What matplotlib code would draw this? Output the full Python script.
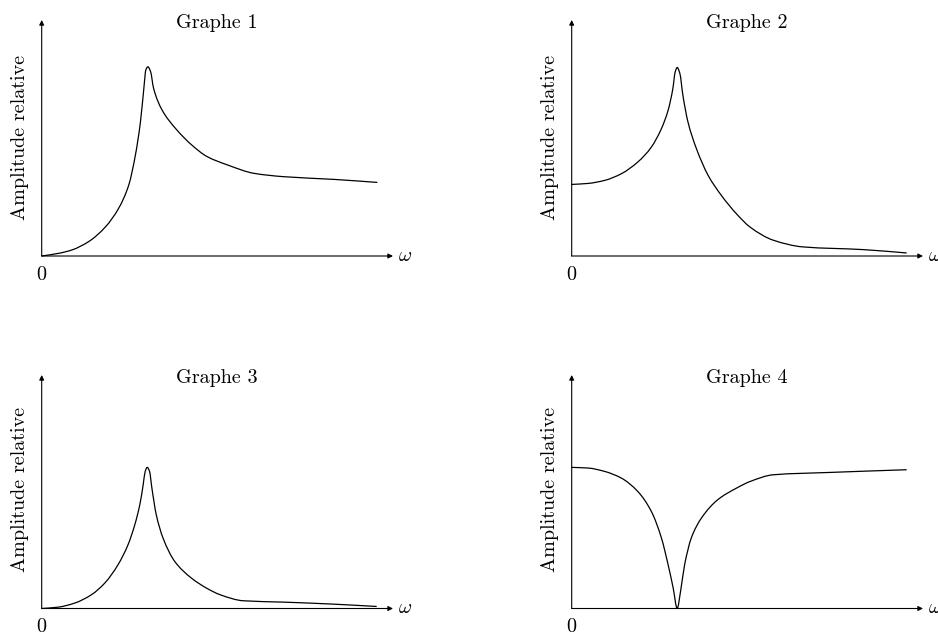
import numpy as np
import matplotlib
matplotlib.use('Agg')
import matplotlib.pyplot as plt
from matplotlib.path import Path
from matplotlib.patches import PathPatch

plt.rcParams['font.family'] = 'cmr10'
plt.rcParams['mathtext.fontset'] = 'cm'
plt.rcParams['axes.unicode_minus'] = False

# values (x: omega, y: relative amplitude, same units)
x1 = [0, 0.51, 0.90, 1.40, 1.90, 2.29, 2.59, 2.79, 2.94, 3.04, 3.10, 3.16, 3.24,
      3.33, 3.58, 3.98, 4.47, 4.92, 5.53, 6.32, 7.21, 8.70, 9.99]
y1 = [0, 0.08, 0.18, 0.43, 0.87, 1.42, 2.11, 3.01, 4.00, 4.99, 5.54, 5.63, 5.49,
      4.99, 4.35, 3.80, 3.30, 2.96, 2.71, 2.46, 2.36, 2.28, 2.19]

x2 = [0, 0.49, 0.98, 1.48, 1.97, 2.37, 2.67, 2.87, 3.01, 3.08, 3.14, 3.22, 3.31,
      3.46, 3.71, 4.06, 4.45, 4.90, 5.31, 6.00, 6.89, 8.68, 9.97]
y2 = [2.13, 2.16, 2.25, 2.45, 2.80, 3.24, 3.79, 4.34, 4.98, 5.48, 5.61, 5.43, 4.78,
      3.99, 3.20, 2.40, 1.81, 1.26, 0.86, 0.47, 0.27, 0.19, 0.09]

x3 = [0, 0.49, 0.98, 1.48, 1.88, 2.27, 2.57, 2.77, 2.92, 3.02, 3.08, 3.14, 3.21,
      3.28, 3.41, 3.61, 3.96, 4.45, 4.90, 5.31, 6.00, 7.19, 8.68, 9.97]
y3 = [0, 0.04, 0.16, 0.41, 0.76, 1.30, 1.90, 2.49, 3.09, 3.68, 4.08, 4.20, 4.08,
      3.58, 2.79, 2.10, 1.40, 0.91, 0.61, 0.41, 0.23, 0.19, 0.13, 0.06]

x4 = [0, 0.49, 0.98, 1.48, 1.97, 2.37, 2.67, 2.87, 3.02, 3.14, 3.24, 3.36, 3.56,
      3.86, 4.35, 4.90, 5.31, 6.00, 7.69, 9.97]
y4 = [4.20, 4.18, 4.08, 3.88, 3.48, 2.89, 2.10, 1.30, 0.61, 0, 0.51, 1.30, 2.10,
      2.69, 3.24, 3.58, 3.78, 3.98, 4.05, 4.13]

titles = ['Graphe 1', 'Graphe 2', 'Graphe 3', 'Graphe 4']
curves = [(x1, y1), (x2, y2), (x3, y3), (x4, y4)]


def smooth_path(xs, ys):
    # shape preserving cubic (pchip slopes) drawn as bezier segments
    x = np.asarray(xs, float)
    y = np.asarray(ys, float)
    h = np.diff(x)
    delta = np.diff(y) / h
    m = np.zeros_like(y)
    m[0], m[-1] = delta[0], delta[-1]
    for k in range(1, len(x) - 1):
        if delta[k - 1] * delta[k] > 0:
            w1 = 2 * h[k] + h[k - 1]
            w2 = h[k] + 2 * h[k - 1]
            m[k] = (w1 + w2) / (w1 / delta[k - 1] + w2 / delta[k])
    verts = [(x[0], y[0])]
    codes = [Path.MOVETO]
    for k in range(len(x) - 1):
        verts += [(x[k] + h[k] / 3, y[k] + m[k] * h[k] / 3),
                  (x[k + 1] - h[k] / 3, y[k + 1] - m[k + 1] * h[k] / 3),
                  (x[k + 1], y[k + 1])]
        codes += [Path.CURVE4] * 3
    return Path(verts, codes)


W, H = 938, 634
fig = plt.figure(figsize=(W / 100, H / 100), dpi=100)

unit = 33.6  # pixels per data unit
# (origin x px, origin y px, top of y axis px) for each panel
frames = [(41.7, 256.0, 20.0), (571.7, 256.0, 20.0),
          (41.7, 608.5, 375.0), (571.7, 608.5, 375.0)]
xlen = 351.3

for (ox, oy, top), title, (xs, ys) in zip(frames, titles, curves):
    ax = fig.add_axes([ox / W, (H - oy) / H, xlen / W, (oy - top) / H])
    xmax = xlen / unit
    ymax = (oy - top) / unit
    ax.set_xlim(0, xmax)
    ax.set_ylim(0, ymax)
    ax.axis('off')

    arrow = dict(arrowstyle='-|>', lw=0.8, color='black', mutation_scale=7,
                 shrinkA=0, shrinkB=0)
    ax.annotate('', xy=(xmax, 0), xytext=(0, 0), arrowprops=arrow, annotation_clip=False)
    ax.annotate('', xy=(0, ymax), xytext=(0, 0), arrowprops=arrow, annotation_clip=False)

    ax.add_patch(PathPatch(smooth_path(xs, ys), facecolor='none', edgecolor='black',
                           lw=0.9, clip_on=False))

    ax.text(175.5 / unit, ymax - 3.0 / unit, title, ha='center', va='center', fontsize=14.5)
    ax.text(-21.5 / unit, 119 / unit, 'Amplitude relative', rotation=90,
            ha='center', va='center', fontsize=14.5)
    ax.text(0, -19 / unit, '0', ha='center', va='center', fontsize=14.5)
    ax.text(xmax + 12 / unit, 0, r'$\omega$', ha='center', va='center', fontsize=14.5)

fig.savefig('out.png', dpi=100)
